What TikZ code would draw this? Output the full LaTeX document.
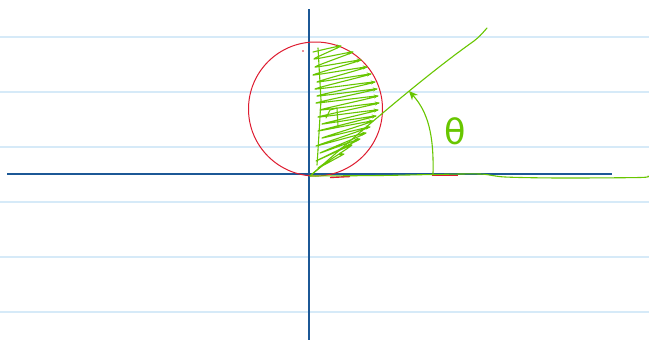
\documentclass[tikz,border=0pt]{standalone}
\usepackage{fontspec}
\newfontfamily\thetafont{DejaVu Sans}
\usetikzlibrary{arrows.meta}
\definecolor{inkgreen}{RGB}{104,198,0}
\definecolor{inkred}{RGB}{222,28,48}
\definecolor{axisblue}{RGB}{28,88,150}
\definecolor{ruleblue}{RGB}{214,234,248}
\tikzset{
  ruleline/.style={draw=ruleblue, line width=2pt},
  axisline/.style={draw=axisblue, line width=1.1pt},
  redink/.style={draw=inkred, line width=1pt},
  greenink/.style={draw=inkgreen, line width=1.1pt, line cap=round, line join=round},
  scribtip/.style={-{Stealth[length=4pt,width=4pt]}}
}
\begin{document}
\begin{tikzpicture}[x=1pt,y=-1pt]
\fill[white] (0,0) rectangle (649,340);
\path[use as bounding box] (0,0) rectangle (649,340);
% notebook rules
\foreach \yy in {37,92,147,202,257,312} \draw[ruleline] (0,\yy) -- (649,\yy);
% axes
\coordinate (xl) at (7,174);
\coordinate (xr) at (612,174);
\coordinate (yt) at (309,9);
\coordinate (yb) at (309,340);
\draw[axisline] (xl) -- (xr);
\draw[axisline] (yt) -- (yb);
% red circle
\coordinate (cc) at (315.5,109);
\draw[redink] (cc) circle[radius=67];
\fill[inkred] (303,51) circle[radius=0.8];
\draw[redink, line width=1.4pt] (330,177.5) -- (350,176.5);
\draw[redink, line width=1.4pt] (432,175.5) -- (458,175.5);
% green scribble (wavy zigzag)
\draw[greenink] plot[smooth, tension=0.35] coordinates {
(313,52) (341,46) (314,59) (353,52) (315,67) (361,60) (313,75) (367,67)
(317,82) (371,74) (315,89) (375,82) (317,96) (377,89) (316,103) (378,96)
(320,110) (379,103) (318,117) (378,110) (322,124) (376,116) (318,131)
(373,121) (322,138) (370,127) (316,146) (366,133) (320,153) (360,139)
(316,161) (352,145) (318,168) (344,154)};
\foreach \rx/\ry in {341/46,353/52,361/60,367/67,371/74,375/82,377/89,378/96,379/103,378/110,376/116,373/121,370/127,366/133,360/139,352/145,344/154}
  \draw[greenink, scribtip] ({\rx-5},{\ry+0.6}) -- (\rx,\ry);
\draw[greenink] (318,48) -- (321,100) -- (318,150) -- (317,165);
\draw[greenink] (326,118) -- (330,110) -- (337,108) -- (338,126);
\draw[greenink] (311,175) -- (322,166);
% ray
\coordinate (o) at (310,176);
\coordinate (rayend) at (487,28);
\draw[greenink] (o) .. controls (370,123) and (430,72) .. (474,41) .. controls (480,36) .. (rayend);
% baseline ink
\coordinate (bend) at (648,176);
\draw[greenink] plot[smooth] coordinates {(o) (380,175.5) (433,174.5) (480,174) (505,177) (560,178) (640,177.5) (bend)};
% angle arc
\coordinate (arcbase) at (433,174);
\coordinate (arctip) at (409,91);
\draw[greenink, -{Stealth[length=9pt,width=8pt]}] (arcbase) .. controls (434,135) and (428,112) .. (arctip);
% theta
\node[text=inkgreen, font=\thetafont\fontsize{35}{35}\selectfont, inner sep=0pt] (theta) at (455.5,131) {θ};
\end{tikzpicture}
\end{document}
